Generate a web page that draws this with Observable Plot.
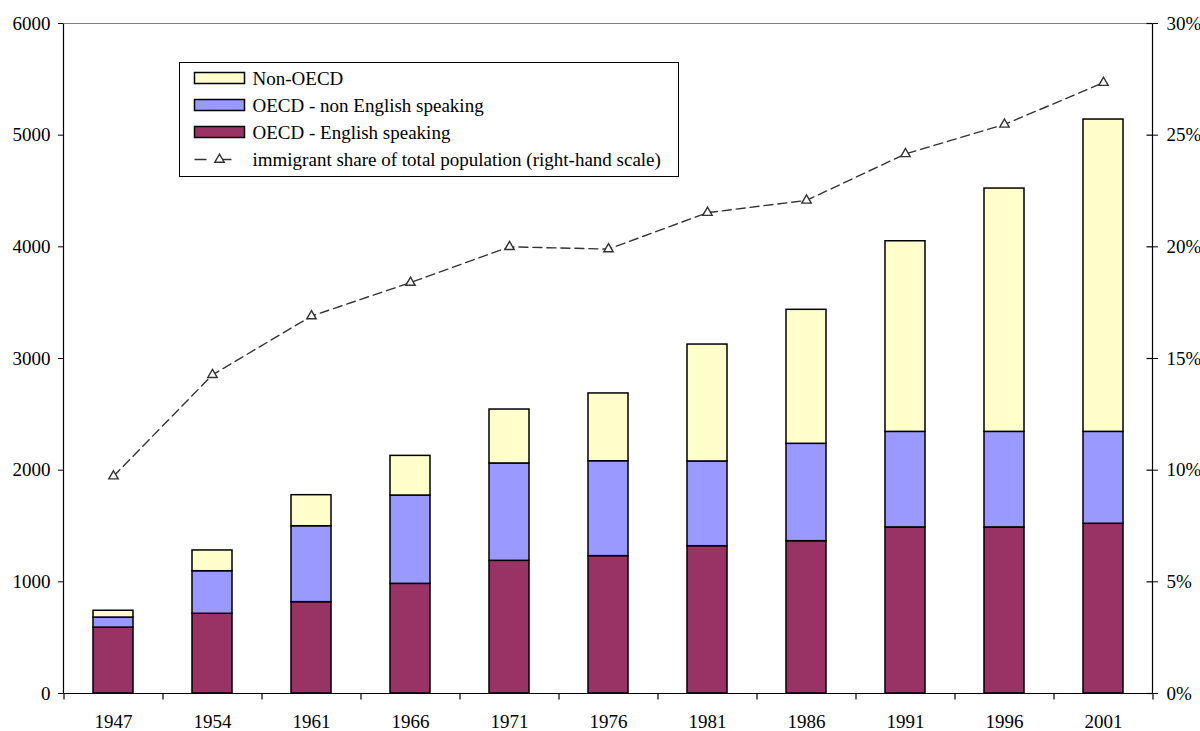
<!DOCTYPE html>
<html><head><meta charset="utf-8">
<script src="https://cdn.jsdelivr.net/npm/d3@7"></script>
<script src="https://cdn.jsdelivr.net/npm/@observablehq/plot@0.6"></script>
<style>
body{margin:0;background:#fff;}
#chart{position:relative;width:1200px;height:731px;}
</style></head><body><div id="chart"></div>
<script>
const years = ["1947","1954","1961","1966","1971","1976","1981","1986","1991","1996","2001"];
const englishOECD = [590, 714, 818, 982, 1188, 1230, 1319, 1364, 1487, 1487, 1520];
const nonEnglishOECD = [90, 381, 680, 791, 872, 850, 759, 872, 856, 856, 823];
const nonOECD = [61, 186, 278, 355, 483, 607, 1047, 1200, 1707, 2179, 2797];
const immigrantShare = [9.73, 14.27, 16.9, 18.4, 20.0, 19.9, 21.53, 22.08, 24.16, 25.48, 27.35];
const leftTicks = [0, 1000, 2000, 3000, 4000, 5000, 6000];
const rightTicks = [0, 5, 10, 15, 20, 25, 30];
const seriesNames = ["OECD - English speaking", "OECD - non English speaking", "Non-OECD"];
const seriesColors = ["#993366", "#9999FF", "#FFFFCC"];
const lineLabel = "immigrant share of total population (right-hand scale)";

const seriesValues = [englishOECD, nonEnglishOECD, nonOECD];
const rows = [];
years.forEach((yr, i) => seriesNames.forEach((g, k) => rows.push({year: yr, group: g, value: seriesValues[k][i]})));
const RATIO = 6000 / 30;
const lineRows = years.map((yr, i) => ({year: yr, v: immigrantShare[i] * RATIO}));
const FONT = "'Liberation Serif','Times New Roman',serif";

const chart = Plot.plot({
  width: 1200, height: 731,
  marginLeft: 63, marginRight: 48, marginTop: 23, marginBottom: 38,
  style: {fontFamily: FONT, fontSize: "19px", color: "#000", background: "#fff", overflow: "visible"},
  x: {domain: years, paddingInner: 0.6, paddingOuter: 0.3, label: null},
  y: {domain: [0, 6000], label: null},
  color: {domain: seriesNames, range: seriesColors},
  marks: [
    Plot.barY(rows, {x: "year", y: "value", fill: "group", stroke: "#000", strokeWidth: 1.5, order: seriesNames}),
    Plot.axisX({tickSize: 0, tickPadding: 21, fontSize: 19}),
    Plot.axisY({ticks: leftTicks, tickSize: 5, tickPadding: 8, tickFormat: d => String(d), fontSize: 19}),
    Plot.axisY({anchor: "right", ticks: rightTicks.map(p => p * RATIO), tickSize: 5, tickPadding: 9, tickFormat: d => (d / RATIO) + "%", fontSize: 19}),
    Plot.line(lineRows, {x: "year", y: "v", stroke: "#333", strokeWidth: 1.4, strokeDasharray: "9,5"}),
    Plot.dot(lineRows, {x: "year", y: "v", symbol: "triangle", r: 3.5, fill: "#fff", stroke: "#333", strokeWidth: 1.4})
  ]
});
document.getElementById("chart").appendChild(chart);

const svg = d3.select(chart);
const xs = chart.scale("x"), ys = chart.scale("y");
const x0 = xs.range[0], x1 = xs.range[1];
const yBot = ys.apply(0), yTop = ys.apply(6000);
const g = svg.append("g").attr("transform", "translate(0.5,0.5)");
g.append("line").attr("x1", x0).attr("x2", x1).attr("y1", yTop).attr("y2", yTop).attr("stroke", "#808080").attr("stroke-width", 1.2);
g.append("line").attr("x1", x0).attr("x2", x0).attr("y1", yTop).attr("y2", yBot).attr("stroke", "#000").attr("stroke-width", 1.2);
g.append("line").attr("x1", x1).attr("x2", x1).attr("y1", yTop).attr("y2", yBot).attr("stroke", "#000").attr("stroke-width", 1.2);
g.append("line").attr("x1", x0).attr("x2", x1).attr("y1", yBot).attr("y2", yBot).attr("stroke", "#000").attr("stroke-width", 1.2);
const gap = (xs.step - xs.bandwidth) / 2;
const bounds = years.map(yr => xs.apply(yr) - gap).concat([xs.apply(years[years.length - 1]) + xs.bandwidth + gap]);
bounds.forEach(b => g.append("line").attr("x1", b).attr("x2", b).attr("y1", yBot).attr("y2", yBot + 6).attr("stroke", "#000").attr("stroke-width", 1.2));
rightTicks.forEach(p => {
  const yy = ys.apply(p * RATIO);
  g.append("line").attr("x1", x1 - 6).attr("x2", x1).attr("y1", yy).attr("y2", yy).attr("stroke", "#000").attr("stroke-width", 1.2);
});

const lg = svg.append("g").attr("transform", "translate(179.5,62.5)")
  .style("font-family", FONT).style("font-size", "19px").attr("text-anchor", "start");
lg.append("rect").attr("width", 499).attr("height", 114).attr("fill", "#fff").attr("stroke", "#000").attr("stroke-width", 1);
const legendItems = [
  {label: seriesNames[2], color: seriesColors[2]},
  {label: seriesNames[1], color: seriesColors[1]},
  {label: seriesNames[0], color: seriesColors[0]}
];
legendItems.forEach((it, i) => {
  const cy = 16 + i * 27;
  lg.append("rect").attr("x", 15).attr("y", cy - 6).attr("width", 50).attr("height", 11).attr("fill", it.color).attr("stroke", "#000").attr("stroke-width", 1.5);
  lg.append("text").attr("x", 73).attr("y", cy).attr("dy", "0.35em").attr("text-anchor", "start").attr("fill", "#000").text(it.label);
});
{
  const cy = 16 + 3 * 27;
  lg.append("line").attr("x1", 15).attr("x2", 65).attr("y1", cy).attr("y2", cy).attr("stroke", "#333").attr("stroke-width", 1.4).attr("stroke-dasharray", "12,13");
  lg.append("path").attr("d", d3.symbol(d3.symbolTriangle, 3.5 * 3.5 * Math.PI)()).attr("transform", `translate(40,${cy})`).attr("fill", "#fff").attr("stroke", "#333").attr("stroke-width", 1.4);
  lg.append("text").attr("x", 73).attr("y", cy).attr("dy", "0.35em").attr("text-anchor", "start").attr("fill", "#000").text(lineLabel);
}
</script></body></html>
